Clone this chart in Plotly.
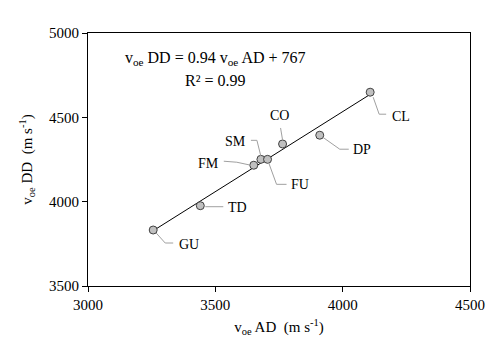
import numpy as np
import plotly.graph_objects as go

# Data
sites = ["GU", "TD", "FM", "SM", "FU", "CO", "DP", "CL"]
v_ad = [3256, 3441, 3651, 3679, 3705, 3764, 3910, 4108]
v_dd = [3832, 3976, 4216, 4251, 4251, 4342, 4394, 4649]
x_ticks = [3000, 3500, 4000, 4500]
y_ticks = [3500, 4000, 4500, 5000]
slope, intercept, r2 = 0.94, 767, 0.99

# Label placement (screen pixel offsets from point; y down)
label_offsets = {
    "GU": (36, 14), "TD": (37, 2), "FM": (-45, -2), "SM": (-25, -18),
    "FU": (32, 25), "CO": (-3, -28), "DP": (42, 14), "CL": (31, 24),
}
leader_paths = {
    "GU": [(3, 3), (12, 13), (20, 13)],
    "TD": [(5, 1), (23, 1)],
    "FM": [(-30, -4), (-17, -3), (-3, 0)],
    "SM": [(-10, -19), (-4, -19), (0, -3)],
    "FU": [(1, 3), (9, 25), (19, 25)],
    "CO": [(0, -4), (-2, -16)],
    "DP": [(3, 2), (20, 14), (29, 14)],
    "CL": [(3, 5), (9, 22), (16, 22)],
}

FONT = "Liberation Serif, Times New Roman, serif"

# page body has an 8px margin; compensate so the plot lands where the reference is
OFF = 8
W, H = 496 - OFF, 352 - OFF
pl, pr, pt, pb = 88 - OFF, 26, 33 - OFF, 66

fig = go.Figure()

xs = np.array(v_ad, dtype=float)
ys = np.array(v_dd, dtype=float)
m, b = np.polyfit(xs, ys, 1)
xl = np.array([xs.min(), xs.max()])
fig.add_trace(go.Scatter(x=xl, y=m * xl + b, mode="lines",
                         line=dict(color="black", width=1), hoverinfo="skip"))

fig.add_trace(go.Scatter(x=v_ad, y=v_dd, mode="markers",
                         marker=dict(size=8, color="#c0c0c0",
                                     line=dict(color="#404040", width=1))))

annotations = []
shapes = []
for s, x, y in zip(sites, v_ad, v_dd):
    dx, dy = label_offsets[s]
    annotations.append(dict(x=x, y=y, xref="x", yref="y", text=s, showarrow=False,
                            xshift=dx, yshift=-dy,
                            font=dict(family=FONT, size=14, color="black")))
    pts = leader_paths[s]
    path = "M " + " L ".join(f"{px},{-py}" for px, py in pts)
    shapes.append(dict(type="path", xref="x", yref="y", xsizemode="pixel", ysizemode="pixel",
                       xanchor=x, yanchor=y, path=path,
                       line=dict(color="#a0a0a0", width=1)))

pw, ph = W - pl - pr, H - pt - pb
eq_lines = [
    (f"v<sub>oe</sub> DD = {slope} v<sub>oe</sub> AD + {intercept}", 59),
    (f"R² = {r2}", 80),
]
for txt, ypix in eq_lines:
    annotations.append(dict(
        x=(215 - 88) / pw, y=1 - (ypix - 33) / ph, xref="paper", yref="paper",
        xanchor="center", yanchor="middle", text=txt,
        showarrow=False, align="center",
        font=dict(family=FONT, size=16, color="black")))

fig.update_layout(
    width=W, height=H,
    margin=dict(l=pl, r=pr, t=pt, b=pb),
    paper_bgcolor="white", plot_bgcolor="white",
    showlegend=False,
    font=dict(family=FONT, size=15, color="black"),
    annotations=annotations, shapes=shapes,
)
fig.update_xaxes(range=[3000, 4500], tickvals=x_ticks, showgrid=False, zeroline=False,
                 showline=True, mirror=True, linecolor="black", linewidth=1,
                 ticks="outside", ticklen=5, tickcolor="black",
                 title=dict(text="v<sub>oe</sub> AD&nbsp; (m s<sup>-1</sup>)", standoff=9,
                            font=dict(size=15)))
fig.update_yaxes(range=[3500, 5000], tickvals=y_ticks, showgrid=False, zeroline=False,
                 showline=True, mirror=True, linecolor="black", linewidth=1,
                 ticks="outside", ticklen=5, tickcolor="black",
                 title=dict(text="v<sub>oe</sub> DD&nbsp; (m s<sup>-1</sup>)", standoff=12,
                            font=dict(size=15)))

fig.write_html("out.html")
